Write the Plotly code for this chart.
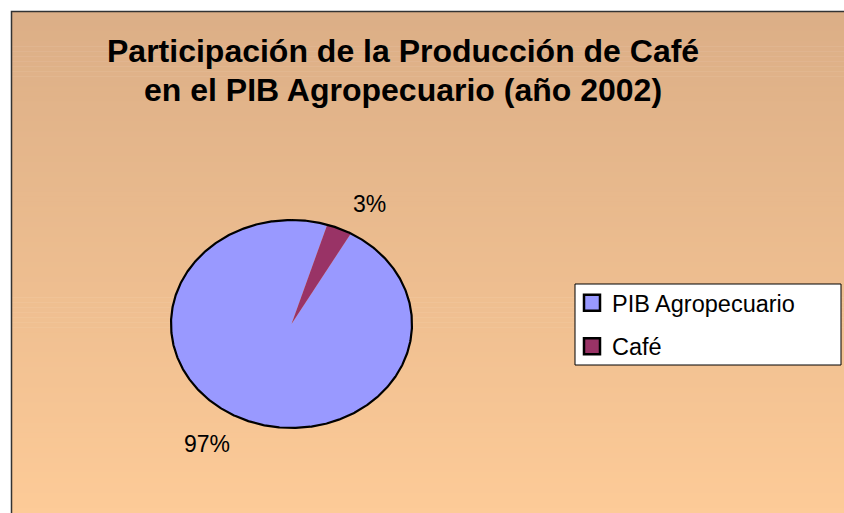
import numpy as np
import plotly.graph_objects as go

# ---- data ----
categories = ["PIB Agropecuario", "Café"]
values = [96.6, 3.4]
colors = ["#9999FF", "#993366"]
title_lines = ["Participación de la Producción de Café", "en el PIB Agropecuario (año 2002)"]
start_angle = 29.5  # degrees clockwise from 12 o'clock, first slice start

W, H = 844, 513
FONT = "Arial, Liberation Sans, sans-serif"

fig = go.Figure()

# ---- pie slices drawn as filled polygons on unit-circle axes ----
total = sum(values)
ang = start_angle
label_info = []
for cat, v, c in zip(categories, values, colors):
    sweep = 360.0 * v / total
    th = np.radians(np.linspace(ang, ang + sweep, max(int(sweep * 2), 8)))
    xs = np.concatenate([[0], np.sin(th), [0]])
    ys = np.concatenate([[0], np.cos(th), [0]])
    fig.add_trace(go.Scatter(x=xs, y=ys, mode="lines", fill="toself",
                             fillcolor=c, line=dict(width=0, color=c),
                             showlegend=False, hoverinfo="skip"))
    mid = np.radians(ang + sweep / 2)
    label_info.append((mid, f"{round(v / total * 100)}%"))
    ang += sweep

# outline of ellipse
tt = np.radians(np.linspace(0, 360, 721))
fig.add_trace(go.Scatter(x=np.sin(tt), y=np.cos(tt), mode="lines",
                         line=dict(color="black", width=2.2),
                         showlegend=False, hoverinfo="skip"))

# legend entries
for i, (cat, c) in enumerate(zip(categories, colors)):
    fig.add_trace(go.Scatter(x=[None], y=[None], mode="markers", name=cat,
                             legendgroup=f"g{i}",
                             marker=dict(symbol="square", size=16, color=c,
                                         line=dict(color="black", width=2.5))))

# percent labels
for mid, txt in label_info:
    s, co = np.sin(mid), np.cos(mid)
    fig.add_annotation(x=1.24 * s, y=1.1 * co, xref="x", yref="y", text=txt,
                       showarrow=False, font=dict(family=FONT, size=23, color="black"),
                       xanchor="left" if s > 0 else "right",
                       yanchor="bottom" if co > 0 else "top")

# ---- layout / geometry ----
cx, cy, a, b = 291.5, 324.0, 120.5, 104.0
pad = 1.05
xd = [(cx - a * pad) / W, (cx + a * pad) / W]
yd = [1 - (cy + b * pad) / H, 1 - (cy - b * pad) / H]

# gradient background stripes
shapes = []
top_c = np.array([220, 175, 135])
bot_c = np.array([253, 203, 152])
n = 100
y_top, y_bot = 11, H
for k in range(n):
    f = k / (n - 1)
    col = top_c + (bot_c - top_c) * f
    y0 = y_top + (y_bot - y_top) * k / n
    y1 = y_top + (y_bot - y_top) * (k + 1) / n + 0.6
    shapes.append(dict(type="rect", xref="paper", yref="paper", layer="below",
                       x0=11 / W, x1=1.01, y0=1 - y1 / H, y1=1 - y0 / H,
                       fillcolor=f"rgb({int(col[0])},{int(col[1])},{int(col[2])})",
                       line=dict(width=0)))
# chart border
shapes.append(dict(type="rect", xref="paper", yref="paper", layer="below",
                   x0=11.5 / W, x1=1.02, y0=-0.02, y1=1 - 11.5 / H,
                   fillcolor="rgba(0,0,0,0)", line=dict(color="#333333", width=1.5)))
# legend box
shapes.append(dict(type="rect", xref="paper", yref="paper", layer="below",
                   x0=575 / W, x1=841 / W, y0=1 - 365 / H, y1=1 - 284 / H,
                   fillcolor="white", line=dict(color="black", width=1)))

for i, line in enumerate(title_lines):
    fig.add_annotation(x=403 / W, y=1 - (51 + 39 * i) / H, xref="paper", yref="paper",
                       text=f"<b>{line}</b>", showarrow=False,
                       font=dict(family=FONT, size=32, color="black"),
                       xanchor="center", yanchor="middle")

fig.update_layout(
    width=W, height=H,
    margin=dict(l=0, r=0, t=0, b=0),
    paper_bgcolor="white", plot_bgcolor="rgba(0,0,0,0)",
    shapes=shapes,
    xaxis=dict(domain=xd, range=[-pad, pad], visible=False, fixedrange=True),
    yaxis=dict(domain=yd, range=[-pad, pad], visible=False, fixedrange=True),
    showlegend=True,
    legend=dict(x=572 / W, y=1 - 281 / H, xanchor="left", yanchor="top",
                bgcolor="rgba(0,0,0,0)", borderwidth=0,
                font=dict(family=FONT, size=23.5, color="black"),
                tracegroupgap=10, itemwidth=30),
    hovermode=False,
)

fig.write_html("out.html", config={"displayModeBar": False},
               post_script="document.body.style.margin='0';document.body.style.overflow='hidden';")
